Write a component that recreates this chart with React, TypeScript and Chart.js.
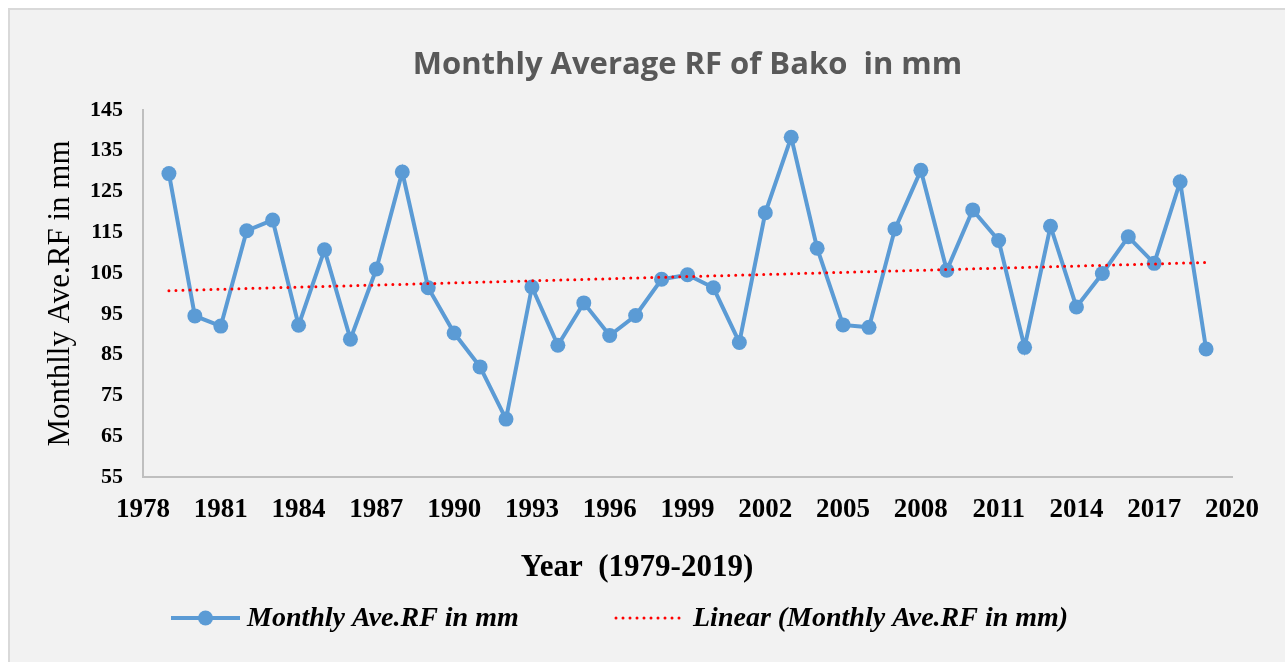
import React, { useEffect, useRef } from "react";
import { Chart, registerables } from "chart.js";

Chart.register(...registerables);

const years = [
  1979, 1980, 1981, 1982, 1983, 1984, 1985, 1986, 1987, 1988,
  1989, 1990, 1991, 1992, 1993, 1994, 1995, 1996, 1997, 1998,
  1999, 2000, 2001, 2002, 2003, 2004, 2005, 2006, 2007, 2008,
  2009, 2010, 2011, 2012, 2013, 2014, 2015, 2016, 2017, 2018, 2019,
];
const rainfall = [
  129.4, 94.5, 92.0, 115.4, 118.0, 92.2, 110.7, 88.8, 106.0, 129.8,
  101.4, 90.3, 82.0, 69.2, 101.6, 87.3, 97.7, 89.7, 94.6, 103.5,
  104.6, 101.4, 88.0, 119.8, 138.3, 111.1, 92.3, 91.7, 115.8, 130.2,
  105.7, 120.5, 113.0, 86.8, 116.5, 96.7, 104.9, 113.9, 107.4, 127.4, 86.4,
];
const trendYears = [1979, 2019];
const trendValues = [100.7, 107.6];
const xTicks = [1978, 1981, 1984, 1987, 1990, 1993, 1996, 1999, 2002, 2005, 2008, 2011, 2014, 2017, 2020];
const yTicks = [55, 65, 75, 85, 95, 105, 115, 125, 135, 145];

const chartTitle = "Monthly Average RF of Bako  in mm";
const xTitle = "Year  (1979-2019)";
const yTitle = "Monthlly Ave.RF in mm";
const seriesLabel = "Monthly Ave.RF in mm";
const trendLabel = "Linear (Monthly Ave.RF in mm)";

const BLUE = "#5b9bd5";
const RED = "#ff0000";
const SERIF = '"Liberation Serif", "Times New Roman", serif';

const overlayPlugin = {
  id: "overlay",
  afterDraw(chart: any) {
    const ctx: CanvasRenderingContext2D = chart.ctx;
    const { top, bottom } = chart.chartArea;
    ctx.save();
    // Y axis title
    ctx.fillStyle = "#000";
    ctx.textAlign = "center";
    ctx.textBaseline = "middle";
    ctx.font = `31px ${SERIF}`;
    ctx.save();
    ctx.translate(61, (top + bottom) / 2);
    ctx.rotate(-Math.PI / 2);
    ctx.fillText(yTitle, 0, 0);
    ctx.restore();
    // X axis title
    ctx.font = `bold 31px ${SERIF}`;
    ctx.fillText(xTitle, 637, 568);

    // Legend
    const ly = 618;
    const ds0 = chart.data.datasets[1];
    ctx.strokeStyle = ds0.borderColor;
    ctx.lineWidth = ds0.borderWidth;
    ctx.lineCap = "butt";
    ctx.setLineDash([]);
    ctx.beginPath();
    ctx.moveTo(171, ly);
    ctx.lineTo(240, ly);
    ctx.stroke();
    ctx.fillStyle = ds0.pointBackgroundColor;
    ctx.beginPath();
    ctx.arc(205.5, ly, ds0.pointRadius, 0, Math.PI * 2);
    ctx.fill();

    const ds1 = chart.data.datasets[0];
    ctx.strokeStyle = ds1.borderColor;
    ctx.lineWidth = ds1.borderWidth;
    ctx.lineCap = "round";
    ctx.setLineDash(ds1.borderDash);
    ctx.beginPath();
    ctx.moveTo(616, ly);
    ctx.lineTo(682, ly);
    ctx.stroke();
    ctx.setLineDash([]);

    ctx.fillStyle = "#000";
    ctx.textAlign = "left";
    ctx.font = `italic bold 28px ${SERIF}`;
    ctx.fillText(ds0.label, 247, ly + 1);
    ctx.fillText(ds1.label, 693, ly + 1);
    ctx.restore();
  },
};

export default function App() {
  const canvasRef = useRef<HTMLCanvasElement>(null);

  useEffect(() => {
    const canvas = canvasRef.current;
    if (!canvas) return;
    const seriesPoints = years.map((y, i) => ({ x: y, y: rainfall[i] }));
    const trendPoints = trendYears.map((y, i) => ({ x: y, y: trendValues[i] }));

    const chart = new Chart(canvas, {
      type: "line",
      data: {
        datasets: [
          {
            label: trendLabel,
            data: trendPoints,
            borderColor: RED,
            borderWidth: 3,
            borderDash: [0, 7],
            borderCapStyle: "round",
            pointRadius: 0,
            fill: false,
            order: 0,
          } as any,
          {
            label: seriesLabel,
            data: seriesPoints,
            borderColor: BLUE,
            borderWidth: 4,
            pointRadius: 7.5,
            pointBackgroundColor: BLUE,
            pointBorderWidth: 0,
            pointBorderColor: BLUE,
            tension: 0,
            fill: false,
            order: 1,
          } as any,
        ],
      },
      options: {
        animation: false,
        responsive: false,
        devicePixelRatio: 1,
        events: [],
        layout: { padding: { left: 0, right: 53, top: 0, bottom: 0 } },
        plugins: {
          legend: { display: false },
          tooltip: { enabled: false },
          title: {
            display: true,
            fullSize: false,
            text: chartTitle,
            color: "#595959",
            font: { family: '"Open Sans", sans-serif', size: 31, weight: "bold", lineHeight: 1.2 },
            padding: { top: 47, bottom: 25.8 },
          },
        },
        scales: {
          x: {
            type: "linear",
            min: 1978,
            max: 2020,
            afterFit: (s: any) => {
              s.height = 185;
            },
            afterBuildTicks: (s: any) => {
              s.ticks = xTicks.map((v) => ({ value: v }));
            },
            ticks: {
              autoSkip: false,
              maxRotation: 0,
              padding: 17,
              color: "#000",
              font: { family: SERIF, size: 27, weight: "bold" },
              callback: (v: any) => String(v),
            },
            grid: { display: false, drawTicks: false },
            border: { display: true, color: "#bfbfbf", width: 2 },
          },
          y: {
            type: "linear",
            min: 55,
            max: 145,
            afterFit: (s: any) => {
              s.width = 143;
            },
            afterBuildTicks: (s: any) => {
              s.ticks = yTicks.map((v) => ({ value: v }));
            },
            ticks: {
              padding: 20,
              color: "#000",
              font: { family: SERIF, size: 22, weight: "bold" },
              callback: (v: any) => String(v),
            },
            grid: { display: false, drawTicks: false },
            border: { display: true, color: "#bfbfbf", width: 2 },
          },
        },
      } as any,
      plugins: [overlayPlugin],
    });
    return () => chart.destroy();
  }, []);

  return (
    <div style={{ position: "fixed", left: 0, top: 0, width: 1285, height: 662, background: "#ffffff", overflow: "hidden" }}>
      <div
        style={{
          position: "absolute",
          left: 8,
          top: 8,
          width: 1300,
          height: 680,
          borderLeft: "2px solid #d9d9d9",
          borderTop: "2px solid #d9d9d9",
          background: "#f2f2f2",
        }}
      />
      <canvas
        ref={canvasRef}
        width={1285}
        height={662}
        style={{ position: "absolute", left: 0, top: 0, width: 1285, height: 662 }}
      />
    </div>
  );
}
